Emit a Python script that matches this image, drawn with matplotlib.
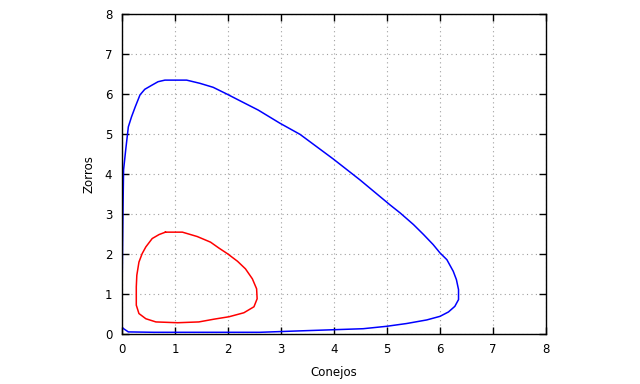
import matplotlib
matplotlib.use("Agg")
from matplotlib import pyplot as plt

# orbita grande (azul)
conejos_a = [0.0, 0.02, 0.12, 0.6, 1.5, 2.6, 3.23, 4.11, 4.55, 4.99, 5.37, 5.75, 6.0,
             6.16, 6.28, 6.35, 6.35, 6.31, 6.25, 6.13, 6.0, 5.87, 5.69, 5.5, 5.25, 5.06,
             4.49, 3.99, 3.36, 2.98, 2.57, 2.23, 1.98, 1.72, 1.47, 1.22, 0.81, 0.68,
             0.56, 0.43, 0.34, 0.25, 0.18, 0.12, 0.07, 0.03, 0.02, 0.005, 0.0]
zorros_a = [0.17, 0.13, 0.04, 0.03, 0.03, 0.03, 0.06, 0.1, 0.12, 0.18, 0.25, 0.34, 0.43,
            0.54, 0.68, 0.85, 1.1, 1.35, 1.56, 1.85, 2.02, 2.23, 2.48, 2.73, 3.02, 3.22,
            3.85, 4.37, 4.99, 5.27, 5.6, 5.83, 6.0, 6.17, 6.27, 6.35, 6.35, 6.31,
            6.22, 6.12, 5.98, 5.68, 5.43, 5.18, 4.6, 4.1, 3.2, 1.5, 0.17]

# orbita pequena (roja)
conejos_b = [0.82, 1.14, 1.42, 1.67, 1.83, 1.99, 2.18, 2.33, 2.46, 2.54, 2.55, 2.49,
             2.3, 2.02, 1.74, 1.45, 1.05, 0.64, 0.45, 0.32, 0.27, 0.27, 0.28, 0.32,
             0.38, 0.45, 0.57, 0.7, 0.82]
zorros_b = [2.54, 2.54, 2.43, 2.29, 2.14, 2.0, 1.81, 1.62, 1.37, 1.12, 0.87, 0.67,
            0.52, 0.42, 0.36, 0.29, 0.27, 0.29, 0.37, 0.5, 0.71, 1.17, 1.46, 1.79,
            2.0, 2.17, 2.38, 2.48, 2.54]

ticks = [0, 1, 2, 3, 4, 5, 6, 7, 8]

plt.rcParams['font.family'] = ['DejaVu Sans']
plt.rcParams['font.size'] = 8.5

fig = plt.figure(figsize=(6.4, 3.84), dpi=100)
ax = fig.add_axes([0.1906, 0.1315, 0.6625, 0.8313])
ax.plot(conejos_a, zorros_a, color='#0000ff', lw=1.1)
ax.plot(conejos_b, zorros_b, color='#ff0000', lw=1.1)
ax.set_xlim(0, 8)
ax.set_ylim(0, 8)
ax.set_xticks(ticks)
ax.set_yticks(ticks)
ax.grid(True, color='#a0a0a0', ls=(0, (1, 3)), lw=0.8)
ax.tick_params(direction='in', top=True, right=True, length=5, width=1, pad=7, colors='black')
for s in ax.spines.values():
    s.set_linewidth(1)
ax.set_xlabel('Conejos', labelpad=7)
ax.set_ylabel('Zorros', labelpad=7)
fig.savefig('out.png', dpi=100)
